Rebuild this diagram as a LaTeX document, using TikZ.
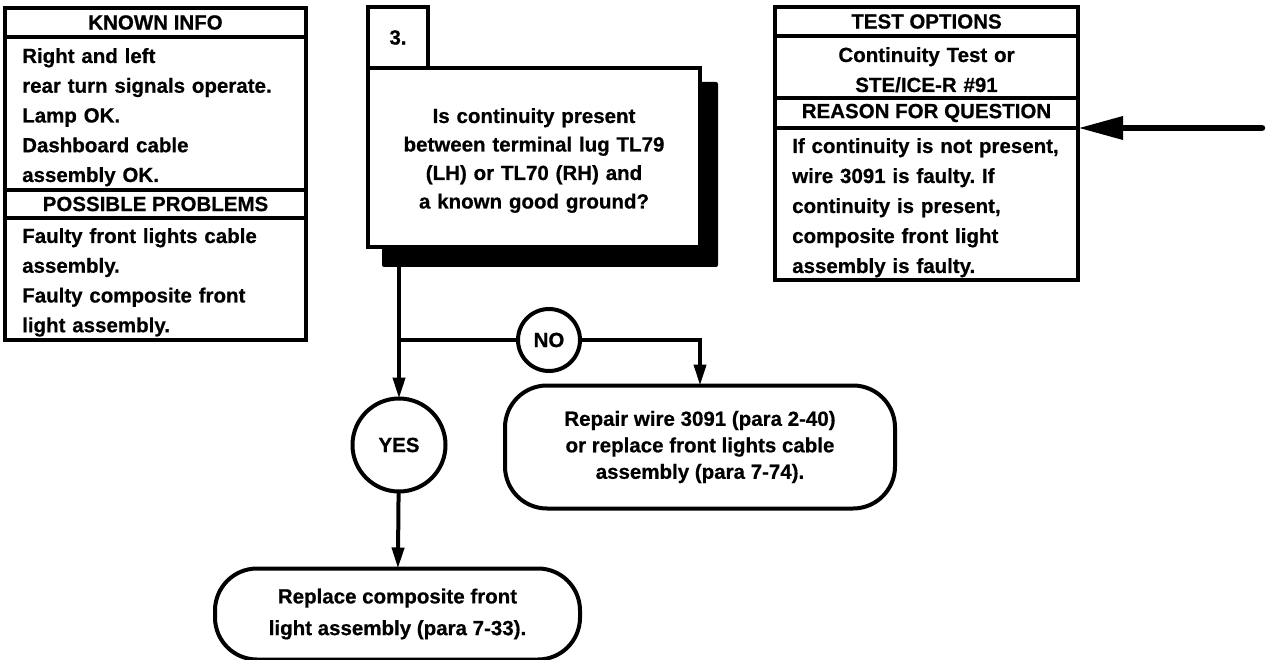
\documentclass[tikz,border=0pt]{standalone}
\usepackage{fontspec}
\setmainfont{Liberation Sans}[BoldFeatures={FakeBold=0.6}]
\usetikzlibrary{positioning,arrows.meta}
\frenchspacing

\begin{document}
\begin{tikzpicture}[x=1pt,y=-1pt,node distance=0pt,
  lh/.style={font=\fontsize{20.5}{#1}\selectfont\bfseries},
  every node/.style={lh=29.75},
  frame/.style={draw,line width=4pt,inner sep=0pt,outer sep=0pt},
  lefttext/.style={anchor=base west,align=left,text width=280pt,inner sep=0pt},
  midtext/.style={anchor=base,align=center,text width=330pt,inner sep=0pt},
  terminal/.style={frame,rounded corners=42pt,align=center},
  answer/.style={frame,circle},
  conn/.style={line width=4pt,-{Triangle[length=21pt,width=12pt]}},
  bigarrow/.style={line width=6.5pt,line cap=round,-{Triangle[length=45pt,width=22pt]}}]
\useasboundingbox (0,0) rectangle (1266,660);

% known info / possible problems
\node[frame,anchor=north west,minimum width=301,minimum height=29] (known) at (5,8) {KNOWN INFO};
\node[frame,minimum width=301,minimum height=153,below=of known] (knownbody) {};
\node[frame,minimum width=301,minimum height=28,below=of knownbody] (probs) {POSSIBLE PROBLEMS};
\node[frame,minimum width=301,minimum height=122,below=of probs] (probsbody) {};
\node[lefttext] (knowntext) at (22,63)
  {Right and left\\rear turn signals operate.\\Lamp OK.\\Dashboard cable\\assembly OK.};
\node[lefttext] (probstext) at (22,243)
  {Faulty front lights cable\\assembly.\\Faulty composite front\\light assembly.};

% test options / reason for question
\node[frame,anchor=north west,minimum width=303,minimum height=29] (testopt) at (775,7) {TEST OPTIONS};
\node[frame,minimum width=303,minimum height=62,below=of testopt] (testbody) {};
\node[frame,minimum width=303,minimum height=30,below=of testbody] (reason) {REASON FOR QUESTION};
\node[frame,minimum width=303,minimum height=152,below=of reason] (reasonbody) {};
\node[midtext,lh=30] (testtext) at (926.5,62) {Continuity Test or\\STE/ICE-R \#91};
\node[lefttext,lh=30] (reasontext) at (792,153)
  {If continuity is not present,\\wire 3091 is faulty. If\\continuity is present,\\composite front light\\assembly is faulty.};

% question 3
\node[fill,inner sep=0pt,outer sep=0pt,rounded corners=2pt,minimum width=336,minimum height=185,
  anchor=north west] (shadow) at (382,82) {};
\node[frame,fill=white,minimum width=332,minimum height=179,anchor=north west] (question) at (368,68) {};
\node[frame,fill=white,minimum width=60,minimum height=61,anchor=south west] (stepno) at (question.north west) {3.};
\node[midtext,lh=28.5] (questiontext) at (534,123)
  {Is continuity present\\between terminal lug TL79\\(LH) or TL70 (RH) and\\a known good ground?};

% answers
\node[answer,minimum size=62] (no) at (549,340) {NO};
\node[answer,minimum size=93] (yes) at (399,445) {YES};
\node[terminal,lh=26.5,minimum width=390,minimum height=123] (repair) at (700,447)
  {Repair wire 3091 (para 2-40)\\or replace front lights cable\\assembly (para 7-74).};
\node[terminal,lh=31.7,minimum width=365,minimum height=91] (replace) at (397.5,614)
  {Replace composite front\\light assembly (para 7-33).};

\coordinate (split) at (yes |- no);
\coordinate (feed) at (1262,128);
\draw[conn] (yes |- shadow.south) -- (yes);
\draw[line width=4pt] (split) -- (no);
\draw[conn] (no) -| (repair);
\draw[conn] (yes) -- (replace);
\draw[bigarrow] (feed) -- (reasonbody.north east);
\end{tikzpicture}
\end{document}
